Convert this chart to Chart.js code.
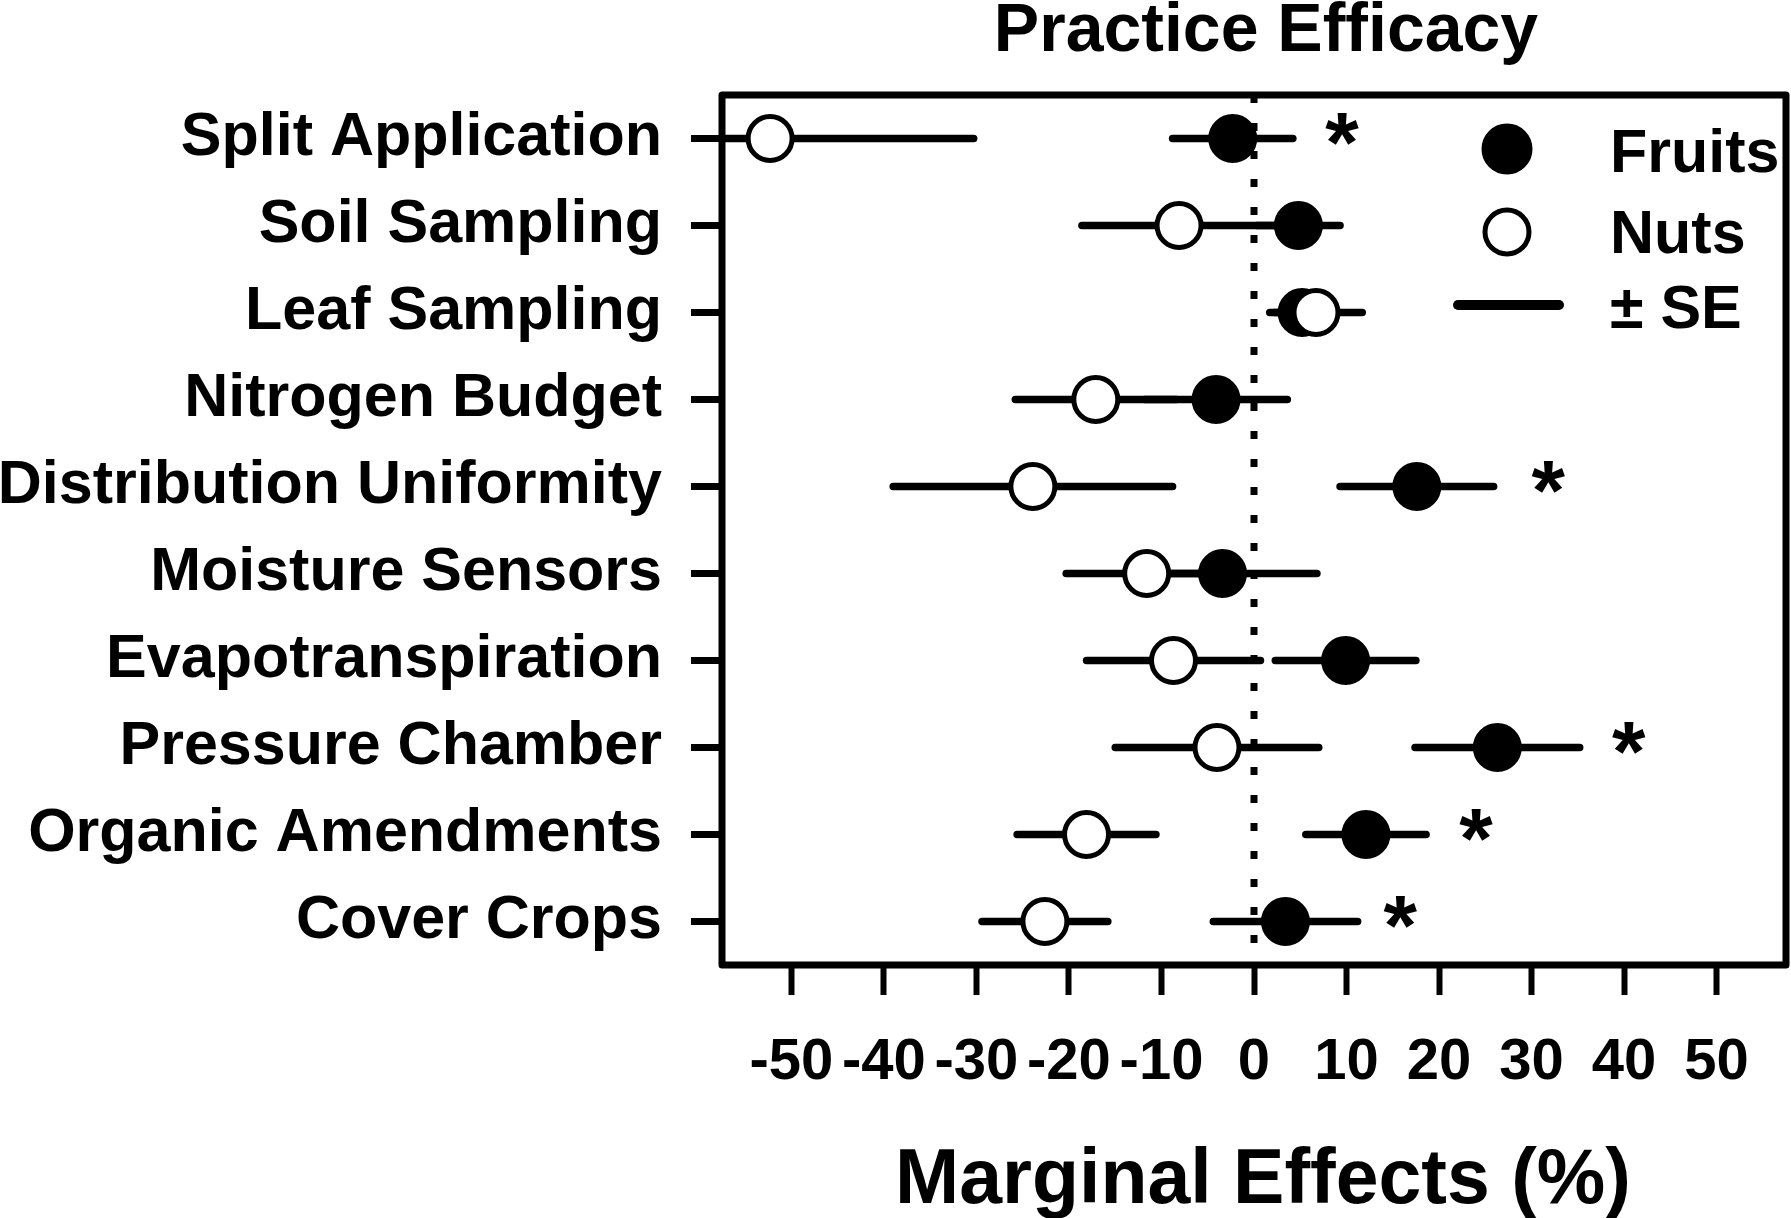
<!DOCTYPE html>
<html>
<head>
<meta charset="utf-8">
<title>Practice Efficacy</title>
<script src="https://cdn.jsdelivr.net/npm/chart.js@4.4.1/dist/chart.umd.min.js"></script>
<style>
  html, body { margin: 0; padding: 0; background: #fff; }
  canvas { display: block; }
</style>
</head>
<body>
<canvas id="chart" width="1791" height="1218"></canvas>
<script>
// practices, top to bottom
const categories = [
    'Split Application',
    'Soil Sampling',
    'Leaf Sampling',
    'Nitrogen Budget',
    'Distribution Uniformity',
    'Moisture Sensors',
    'Evapotranspiration',
    'Pressure Chamber',
    'Organic Amendments',
    'Cover Crops'
];

// marginal effects (%) and standard errors
const fruitsMean = [-2.3, 4.8, 5.2, -4.1, 17.6, -3.4, 9.9, 26.3, 12.1, 3.4];
const fruitsSE   = [6.5, 4.5, 3.0, 7.7, 8.3, 10.2, 7.6, 8.9, 6.5, 7.8];
const nutsMean   = [-52.3, -8.1, 6.7, -17.1, -23.9, -11.6, -8.7, -4.0, -18.1, -22.6];
const nutsSE     = [22.0, 10.5, 5.0, 8.7, 15.1, 8.7, 9.4, 11.0, 7.5, 6.8];

// where the significance stars sit (null = none)
const starX = [9.5, null, null, null, 31.8, null, null, 40.5, 24.0, 15.8];

const xTicks = [-50, -40, -30, -20, -10, 0, 10, 20, 30, 40, 50];

const FONT = '"Liberation Sans", Arial, sans-serif';

// error bars, zero line, frame, stars, legend and titles
const extras = {
    id: 'extras',
    beforeDatasetsDraw(chart) {
        const { ctx, chartArea: a, scales: { x, y } } = chart;
        ctx.save();

        // dotted line at zero
        const x0 = x.getPixelForValue(0);
        ctx.strokeStyle = '#000';
        ctx.lineWidth = 7;
        ctx.lineCap = 'butt';
        ctx.setLineDash([8, 20]);
        ctx.beginPath();
        ctx.moveTo(x0, a.top);
        ctx.lineTo(x0, a.bottom - 8);
        ctx.stroke();
        ctx.setLineDash([]);

        // +/- SE bars, clipped to the plot box
        ctx.beginPath();
        ctx.rect(a.left, a.top, a.width, a.height);
        ctx.clip();
        ctx.lineWidth = 7.5;
        ctx.lineCap = 'round';
        const bars = (mean, se) => {
            mean.forEach((m, i) => {
                const py = y.getPixelForValue(i);
                ctx.beginPath();
                ctx.moveTo(x.getPixelForValue(m - se[i]), py);
                ctx.lineTo(x.getPixelForValue(m + se[i]), py);
                ctx.stroke();
            });
        };
        bars(fruitsMean, fruitsSE);
        bars(nutsMean, nutsSE);
        ctx.restore();
    },
    afterDraw(chart) {
        const { ctx, chartArea: a, scales: { x, y } } = chart;
        ctx.save();

        // box round the plot
        ctx.strokeStyle = '#000';
        ctx.lineWidth = 7;
        ctx.lineJoin = 'round';
        ctx.strokeRect(a.left, a.top, a.width, a.height);

        ctx.fillStyle = '#000';

        // significance stars
        ctx.font = 'bold 86px ' + FONT;
        ctx.textAlign = 'center';
        ctx.textBaseline = 'alphabetic';
        starX.forEach((v, i) => {
            if (v === null) return;
            ctx.fillText('*', x.getPixelForValue(v), y.getPixelForValue(i) + 33);
        });

        // titles
        const cx = (a.left + a.right) / 2;
        ctx.font = 'bold 68px ' + FONT;
        ctx.fillText('Practice Efficacy', cx + 12, 51);
        ctx.font = 'bold 77px ' + FONT;
        ctx.fillText('Marginal Effects (%)', cx + 9, 1203);

        // legend
        const lx = 1507;
        ctx.lineWidth = 5;
        ctx.beginPath();
        ctx.arc(lx, 149, 23, 0, Math.PI * 2);
        ctx.fill();
        ctx.stroke();
        ctx.beginPath();
        ctx.arc(lx, 232, 22, 0, Math.PI * 2);
        ctx.fillStyle = '#fff';
        ctx.fill();
        ctx.stroke();
        ctx.fillStyle = '#000';
        ctx.lineWidth = 10;
        ctx.lineCap = 'round';
        ctx.beginPath();
        ctx.moveTo(1458, 305);
        ctx.lineTo(1559, 305);
        ctx.stroke();

        ctx.font = 'bold 61px ' + FONT;
        ctx.textAlign = 'left';
        ctx.fillText('Fruits', 1610, 172);
        ctx.fillText('Nuts', 1610, 253);
        ctx.fillText('\u00B1 SE', 1610, 328);
        ctx.restore();
    }
};

const ctx = document.getElementById('chart').getContext('2d');
const chart = new Chart(ctx, {
    type: 'scatter',
    data: {
        datasets: [{
            label: 'Nuts',
            data: nutsMean.map((v, i) => ({ x: v, y: categories[i] })),
            pointRadius: 22,
            pointHoverRadius: 22,
            pointBorderWidth: 5,
            backgroundColor: '#fff',
            borderColor: '#000',
            order: 0
        }, {
            label: 'Fruits',
            data: fruitsMean.map((v, i) => ({ x: v, y: categories[i] })),
            pointRadius: 22,
            pointHoverRadius: 22,
            pointBorderWidth: 5,
            backgroundColor: '#000',
            borderColor: '#000',
            order: 1
        }]
    },
    options: {
        responsive: false,
        animation: false,
        devicePixelRatio: 1,
        layout: {
            autoPadding: false,
            padding: { top: 95, right: 5, left: 0, bottom: 0 }
        },
        plugins: {
            legend: { display: false },
            tooltip: { enabled: false }
        },
        scales: {
            x: {
                type: 'linear',
                min: -57.5,
                max: 57.5,
                afterBuildTicks: s => { s.ticks = xTicks.map(v => ({ value: v })); },
                afterFit: s => {
                    s.height = 253;
                    s.paddingLeft = 0;
                    s.paddingRight = 0;
                },
                border: { display: false },
                grid: {
                    drawOnChartArea: false,
                    drawTicks: true,
                    tickLength: 30,
                    tickWidth: 6,
                    tickColor: '#000'
                },
                ticks: {
                    color: '#000',
                    font: { family: FONT, size: 58, weight: 'bold' },
                    padding: 33,
                    maxRotation: 0,
                    autoSkip: false
                }
            },
            y: {
                type: 'category',
                labels: categories,
                offset: true,
                afterFit: s => {
                    s.width = 722;
                    s.paddingTop = 0;
                    s.paddingBottom = 0;
                },
                border: { display: false },
                grid: {
                    offset: false,
                    drawOnChartArea: false,
                    drawTicks: true,
                    tickLength: 31,
                    tickWidth: 7,
                    tickColor: '#000'
                },
                ticks: {
                    color: '#000',
                    font: { family: FONT, size: 61, weight: 'bold' },
                    padding: 29,
                    autoSkip: false
                }
            }
        }
    },
    plugins: [extras]
});
</script>
</body>
</html>
